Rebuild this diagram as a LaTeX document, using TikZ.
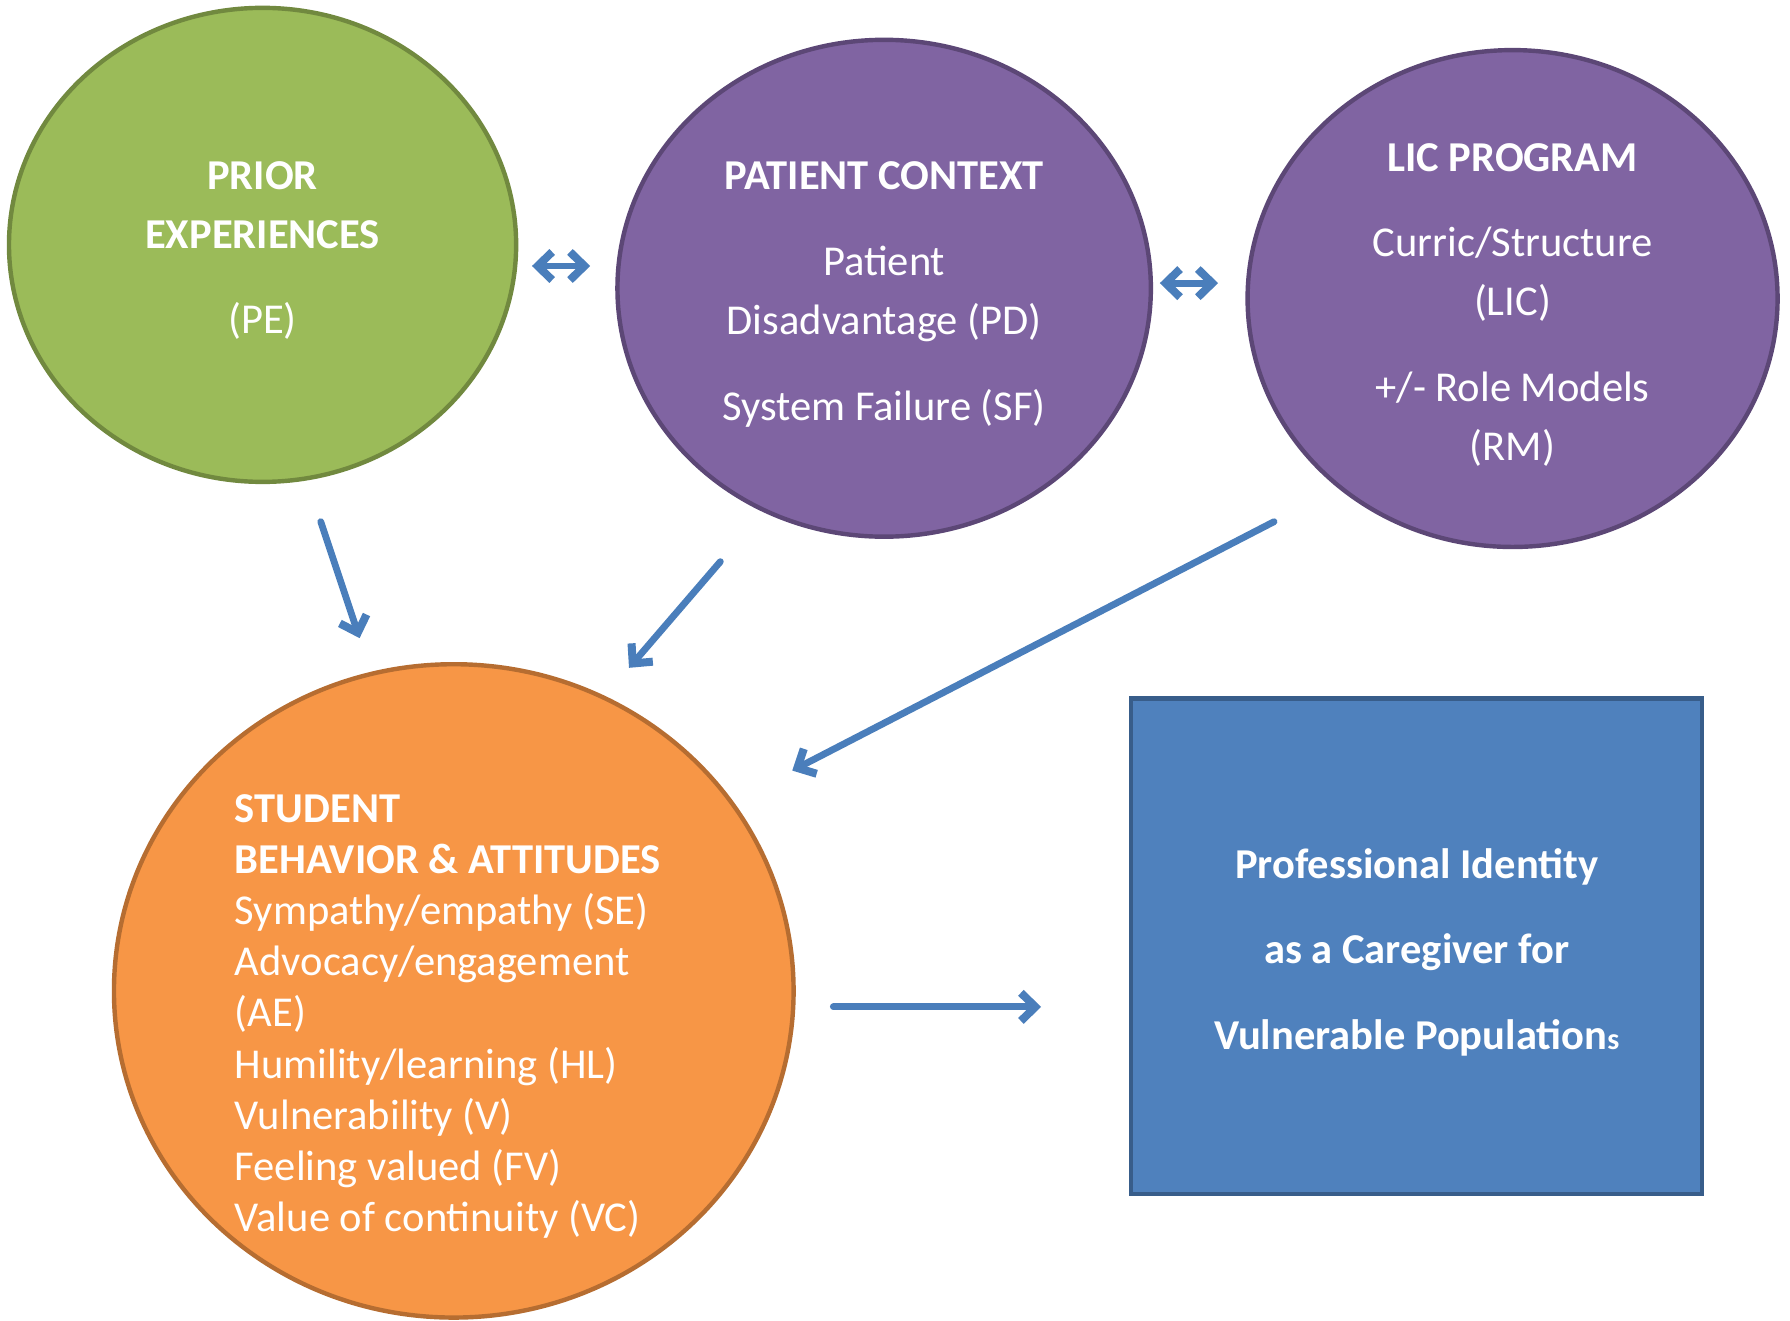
\documentclass[tikz,border=0pt]{standalone}
\usepackage{fontspec}
\setmainfont{Carlito}
\usetikzlibrary{arrows.meta,shapes.geometric}
\definecolor{peGreen}{HTML}{9BBB59}
\definecolor{peGreenDark}{HTML}{71893F}
\definecolor{ctxPurple}{HTML}{8064A2}
\definecolor{ctxPurpleDark}{HTML}{5C4776}
\definecolor{stuOrange}{HTML}{F79646}
\definecolor{stuOrangeDark}{HTML}{B66D31}
\definecolor{pidBlue}{HTML}{4F81BD}
\definecolor{pidBlueDark}{HTML}{385D8A}
\definecolor{linkBlue}{HTML}{4A7EBB}
\begin{document}
\begin{tikzpicture}[x=0.01cm,y=-0.01cm,
    bubble/.style={ellipse,draw,line width=1.1pt,inner sep=0pt},
    bubbletext/.style={inner sep=0pt,text=white,align=center,font=\fontsize{10.6}{14.8}\selectfont},
    barb/.tip={Straight Barb[length=3.6pt,width=7pt,line width=2pt]},
    link/.style={draw=linkBlue,line width=1.7pt,line cap=round,line join=round,-barb},
    twoway/.style={link,barb-barb}]
\useasboundingbox (0,0) rectangle (1568,1157);
% the three sources
\node[bubble,fill=peGreen,draw=peGreenDark,minimum width=4.44cm,minimum height=4.15cm]
  (pe) at (230,214.5) {};
\node[bubbletext] (pe-t) at ([yshift=-1.4pt]pe.center) {\textbf{PRIOR}\\\textbf{EXPERIENCES}\\[6.5pt](PE)};
\node[bubble,fill=ctxPurple,draw=ctxPurpleDark,minimum width=4.67cm,minimum height=4.35cm]
  (pc) at (774.5,252.5) {};
\node[bubbletext] (pc-t) at ([yshift=-1.6pt]pc.center) {\textbf{PATIENT CONTEXT}\\[6.5pt]Patient\\Disadvantage (PD)\\[6.5pt]System Failure (SF)};
\node[bubble,fill=ctxPurple,draw=ctxPurpleDark,minimum width=4.64cm,minimum height=4.35cm]
  (lic) at (1325,261.5) {};
\node[bubbletext] (lic-t) at ([yshift=-1.6pt]lic.center) {\textbf{LIC PROGRAM}\\[6.5pt]Curric/Structure\\(LIC)\\[6.5pt]+/- Role Models\\(RM)};
% student and outcome
\node[bubble,fill=stuOrange,draw=stuOrangeDark,minimum width=5.95cm,minimum height=5.72cm]
  (stu) at (397.5,868) {};
\node[anchor=north west,inner sep=0pt,text=white,align=left,font=\fontsize{10.6}{12.75}\selectfont]
  (stu-t) at (205,695) {\textbf{STUDENT}\\\textbf{BEHAVIOR \& ATTITUDES}\\Sympathy/empathy (SE)\\
  Advocacy/engagement\\(AE)\\Humility/learning (HL)\\Vulnerability (V)\\Feeling valued (FV)\\
  Value of continuity (VC)};
\node[draw=pidBlueDark,fill=pidBlue,line width=1.1pt,minimum width=5cm,minimum height=4.34cm]
  (pid) at (1241,829) {};
\node[bubbletext,font=\bfseries\fontsize{10.6}{21.3}\selectfont] (pid-t) at ([yshift=-1.4pt]pid.center)
  {Professional Identity\\as a Caregiver for\\Vulnerable Population{\fontsize{7.5}{7.5}\selectfont s}};
% arrow ends
\coordinate (pe-r) at (466,233);   \coordinate (pc-l) at (517,233);
\coordinate (pc-r) at (1016,248);  \coordinate (lic-l) at (1067,248);
\coordinate (pe-out) at (281,457); \coordinate (stu-in1) at (315,559);
\coordinate (pc-out) at (631,492); \coordinate (stu-in2) at (551,585);
\coordinate (lic-out) at (1116,457); \coordinate (stu-in3) at (694,675);
\coordinate (stu-out) at (730,882); \coordinate (pid-in) at (912,882);
\draw[twoway] (pe-r) -- (pc-l);
\draw[twoway] (pc-r) -- (lic-l);
\draw[link] (pe-out) -- (stu-in1);
\draw[link] (pc-out) -- (stu-in2);
\draw[link] (lic-out) -- (stu-in3);
\draw[link] (stu-out) -- (pid-in);
\end{tikzpicture}
\end{document}
